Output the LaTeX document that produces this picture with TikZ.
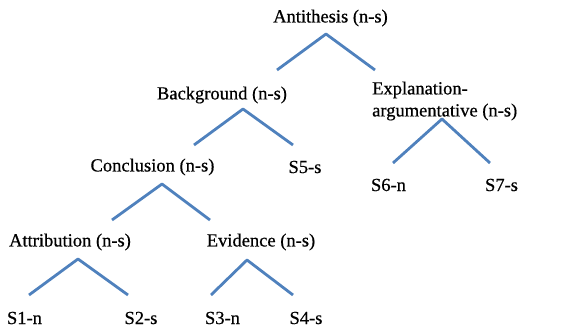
\documentclass[tikz,border=0pt]{standalone}
\usepackage{fontspec}
\newfontfamily\lblfont[FakeBold=0.6]{Liberation Serif}
\definecolor{treeblue}{RGB}{79,129,189}
\begin{document}
\begin{tikzpicture}[x=1pt,y=-1pt,
  lbl/.style={inner sep=0pt,font=\lblfont\fontsize{18.5}{22}\selectfont},
  branch/.style={draw=treeblue,line width=2.8pt,line join=round}]
\useasboundingbox (0,0) rectangle (579,327);
% labels
\node[lbl] (anti) at (330.5,18) {Antithesis (n-s)};
\node[lbl] (back) at (222,95) {Background (n-s)};
\node[lbl,anchor=west,align=left] (expl) at (372,101) {Explanation-\\argumentative (n-s)};
\node[lbl] (concl) at (152.5,167) {Conclusion (n-s)};
\node[lbl] (s5) at (305,167) {S5-s};
\node[lbl] (s6) at (388.5,185) {S6-n};
\node[lbl] (s7) at (501.5,185) {S7-s};
\node[lbl] (attr) at (70,242) {Attribution (n-s)};
\node[lbl] (evid) at (261,242) {Evidence (n-s)};
\node[lbl] (s1) at (24.5,318) {S1-n};
\node[lbl] (s2) at (141,318) {S2-s};
\node[lbl] (s3) at (222.5,318) {S3-n};
\node[lbl] (s4) at (306,318) {S4-s};
% branch points
\coordinate (pA) at (326,34);  \coordinate (lA) at (277,70);  \coordinate (rA) at (375,70);
\coordinate (pB) at (243,109); \coordinate (lB) at (194,145); \coordinate (rB) at (293,145);
\coordinate (pE) at (442,119); \coordinate (lE) at (393,163); \coordinate (rE) at (490,163);
\coordinate (pC) at (162,184); \coordinate (lC) at (112,220); \coordinate (rC) at (210,220);
\coordinate (pT) at (78,259);  \coordinate (lT) at (29,295);  \coordinate (rT) at (128,295);
\coordinate (pV) at (247,260); \coordinate (lV) at (211,295); \coordinate (rV) at (293,295);
% connectors
\draw[branch] (lA) -- (pA) -- (rA);
\draw[branch] (lB) -- (pB) -- (rB);
\draw[branch] (lE) -- (pE) -- (rE);
\draw[branch] (lC) -- (pC) -- (rC);
\draw[branch] (lT) -- (pT) -- (rT);
\draw[branch] (lV) -- (pV) -- (rV);
\end{tikzpicture}
\end{document}
